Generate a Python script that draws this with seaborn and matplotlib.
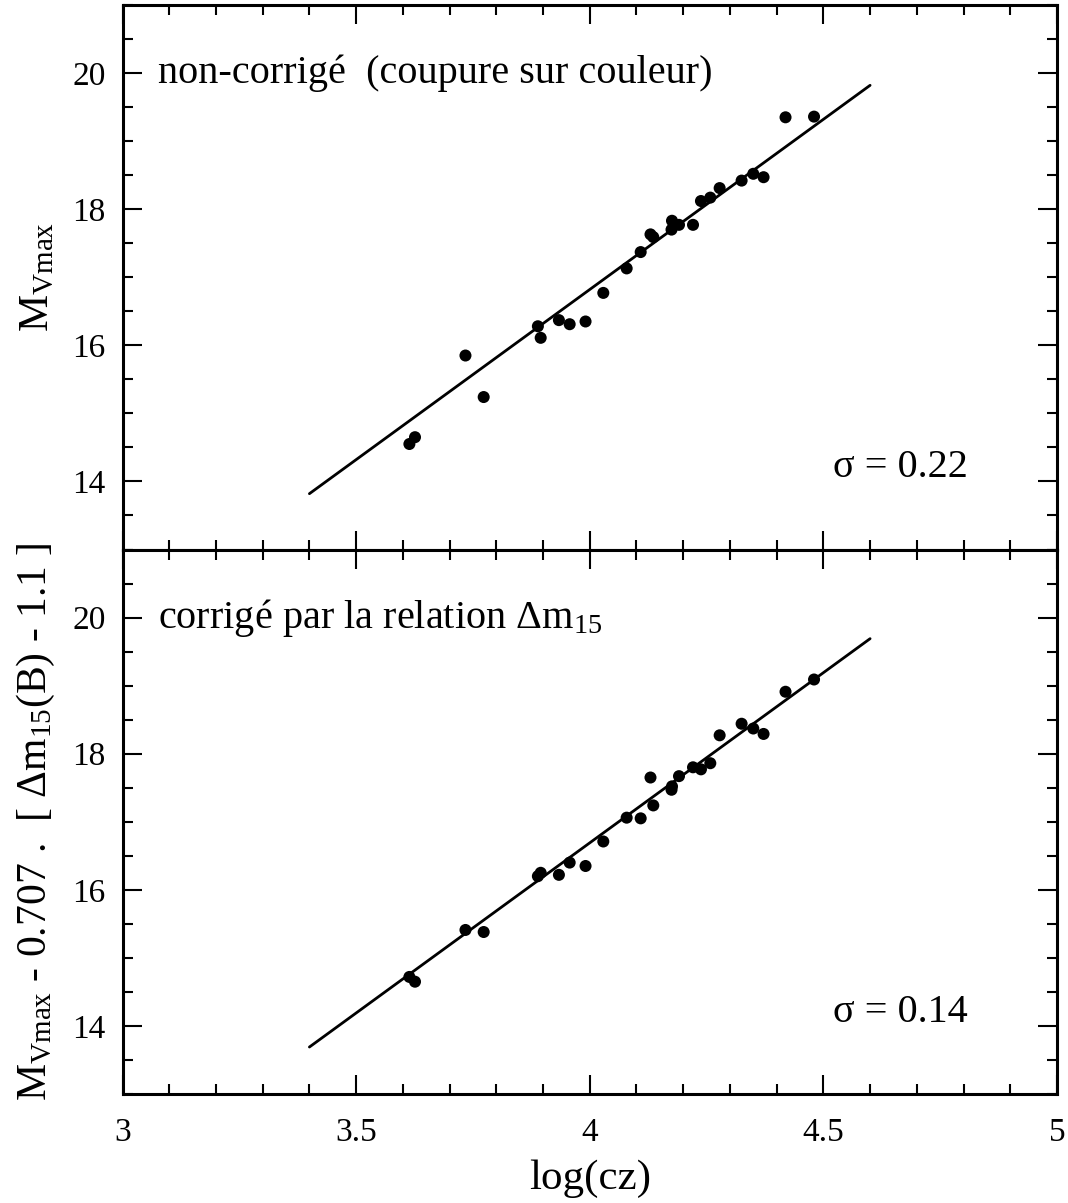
import numpy as np
import pandas as pd
import matplotlib
matplotlib.use("Agg")
import matplotlib.pyplot as plt
from matplotlib.ticker import MultipleLocator
import seaborn as sns

# ---- data ----
log_cz = [3.614, 3.626, 3.734, 3.773, 3.889, 3.895, 3.934, 3.957, 3.991, 4.029,
          4.079, 4.109, 4.130, 4.136, 4.176, 4.175, 4.191, 4.221, 4.238, 4.258,
          4.278, 4.325, 4.350, 4.372, 4.419, 4.480]
mv_raw = [14.55, 14.65, 15.85, 15.24, 16.28, 16.11, 16.37, 16.31, 16.35, 16.77,
          17.13, 17.37, 17.63, 17.59, 17.83, 17.70, 17.77, 17.77, 18.12, 18.17,
          18.31, 18.42, 18.52, 18.47, 19.35, 19.36]
mv_corr = [14.72, 14.65, 15.41, 15.38, 16.20, 16.25, 16.22, 16.40, 16.35, 16.71,
           17.06, 17.05, 17.65, 17.24, 17.52, 17.47, 17.67, 17.80, 17.77, 17.86,
           18.27, 18.44, 18.37, 18.29, 18.91, 19.09]
fit_x = [3.4, 4.6]
fit_raw = [13.82, 19.82]
fit_corr = [13.69, 19.69]
panel_titles = ["non-corrigé  (coupure sur couleur)", "corrigé par la relation Δm$_{15}$"]
sigmas = ["σ = 0.22", "σ = 0.14"]
ylabels = ["M$_{\\mathrm{Vmax}}$",
           "M$_{\\mathrm{Vmax}}$ - 0.707 .  [ Δm$_{15}$(B) - 1.1 ]"]
xlabel = "log(cz)"
xticks = [3, 3.5, 4, 4.5, 5]
xticklabels = ["3", "3.5", "4", "4.5", "5"]
yticks = [14, 16, 18, 20]

sns.set_theme(style="ticks")
plt.rcParams["font.family"] = ["Liberation Serif", "DejaVu Serif"]
plt.rcParams["mathtext.fontset"] = "custom"
plt.rcParams["mathtext.rm"] = "Liberation Serif"
plt.rcParams["mathtext.it"] = "Liberation Serif:italic"
plt.rcParams["mathtext.bf"] = "Liberation Serif:bold"
for k in ["text.color", "axes.labelcolor", "xtick.color", "ytick.color",
          "xtick.labelcolor", "ytick.labelcolor", "axes.edgecolor"]:
    plt.rcParams[k] = "black"

fig = plt.figure(figsize=(10.68, 12.03), dpi=100)
left, right, top, bottom = 122.5 / 1068, 1057 / 1068, 1 - 5 / 1203, 1 - 1094 / 1203
h = (top - bottom) / 2
ax_top = fig.add_axes([left, bottom + h, right - left, h])
ax_bot = fig.add_axes([left, bottom, right - left, h], sharex=ax_top)

ys = [mv_raw, mv_corr]
fits = [fit_raw, fit_corr]
for i, ax in enumerate([ax_top, ax_bot]):
    df = pd.DataFrame({"x": log_cz, "y": ys[i]})
    fdf = pd.DataFrame({"x": fit_x, "y": fits[i]})
    sns.lineplot(data=fdf, x="x", y="y", ax=ax, color="black", linewidth=2, zorder=2)
    sns.scatterplot(data=df, x="x", y="y", ax=ax, color="black", s=75,
                    edgecolor="none", zorder=3)
    ax.set_xlim(3, 5)
    ax.set_ylim(13, 21)
    ax.set_yticks(yticks)
    ax.yaxis.set_minor_locator(MultipleLocator(0.5))
    ax.xaxis.set_minor_locator(MultipleLocator(0.1))
    ax.tick_params(which="both", direction="in", top=True, right=True,
                   colors="black", width=1.5)
    ax.tick_params(which="major", length=14, labelsize=24, pad=12)
    ax.tick_params(which="minor", length=7)
    for sp in ax.spines.values():
        sp.set_linewidth(2.2)
        sp.set_color("black")
    ax.text(3.075, 20.0, panel_titles[i], fontsize=29, va="center", ha="left",
            color="black")
    ax.text(4.52, 14.2, sigmas[i], fontsize=29, va="center", ha="left",
            color="black")
    ax.set_ylabel(ylabels[i], fontsize=30, color="black")
    ax.yaxis.set_label_coords(-0.07, 0.5)
    ax.set_xlabel("")

ax_top.tick_params(axis="x", labelbottom=False)
ax_bot.set_xticks(xticks)
ax_bot.set_xticklabels(xticklabels)
ax_bot.tick_params(axis="x", which="major", pad=17)
ax_bot.set_xlabel(xlabel, fontsize=31, labelpad=8, color="black")

fig.savefig("out.png", dpi=100)
